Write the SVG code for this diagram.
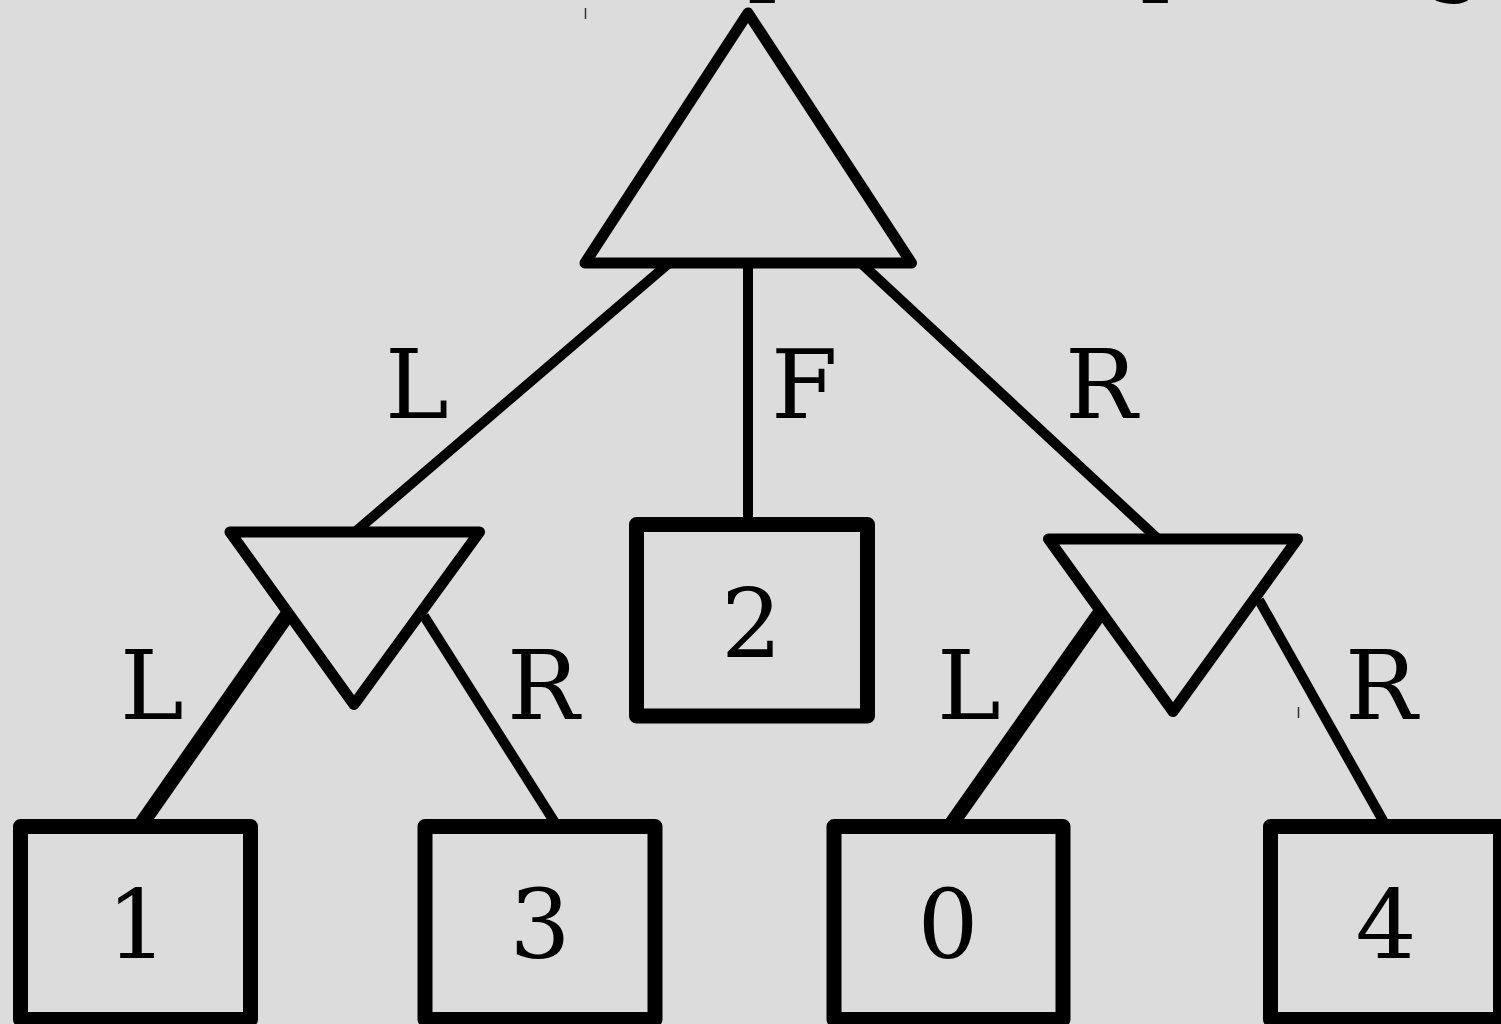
<svg xmlns="http://www.w3.org/2000/svg" width="1501" height="1024" viewBox="0 0 1501 1024">
<style>
.bg{fill:#dcdcdc}
.tri{fill:#dcdcdc;stroke:#000;stroke-width:11;stroke-linejoin:round}
.box{fill:#dcdcdc;stroke:#000;stroke-width:15;stroke-linejoin:round}
.e{stroke:#000;stroke-width:10;fill:none}
.ek{stroke:#000;stroke-width:15;fill:none}
.t{font-family:"DejaVu Serif",serif;font-size:96px;fill:#000}
.tick{stroke:#333;stroke-width:1.5}
</style>
<rect class="bg" x="0" y="0" width="1501" height="1024"/>
<g id="title">
<text class="t" x="747" y="-17">p</text>
<text class="t" x="1140" y="-17">p</text>
<text class="t" x="1426" y="-17">g</text>
</g>
<g id="connectors">
<line class="e" x1="668" y1="264" x2="355" y2="532"/>
<line class="e" x1="748" y1="264" x2="748" y2="524"/>
<line class="e" x1="862" y1="264" x2="1158" y2="539"/>
<line class="ek" x1="288" y1="614" x2="140" y2="826"/>
<line class="e" x1="424" y1="616" x2="557" y2="826"/>
<line class="ek" x1="1100" y1="613" x2="950" y2="826"/>
<line class="e" x1="1259" y1="600" x2="1386" y2="826"/>
</g>
<g id="labels">
<text class="t" x="385" y="418">L</text>
<text class="t" x="771" y="418">F</text>
<text class="t" x="1065" y="418">R</text>
<text class="t" x="120" y="719">L</text>
<text class="t" x="507" y="719">R</text>
<text class="t" x="937" y="719">L</text>
<text class="t" x="1345" y="719">R</text>
</g>
<g id="root">
<polygon class="tri" points="748,13 585,263 911.5,263"/>
</g>
<g id="minL">
<polygon class="tri" points="230,532 479.5,532 354,704.5"/>
</g>
<g id="minR">
<polygon class="tri" points="1048.5,539 1297.5,539 1173,711.5"/>
</g>
<g id="leaf2">
<rect class="box" x="636.5" y="524.5" width="231" height="191.5"/>
<text class="t" x="751.5" y="657" text-anchor="middle">2</text>
</g>
<g id="leaf1">
<rect class="box" x="20.5" y="826.5" width="230" height="193"/>
<text class="t" x="137" y="958" text-anchor="middle">1</text>
</g>
<g id="leaf3">
<rect class="box" x="425" y="826.5" width="230" height="193"/>
<text class="t" x="540" y="958" text-anchor="middle">3</text>
</g>
<g id="leaf0">
<rect class="box" x="834" y="826.5" width="229" height="193"/>
<text class="t" x="948" y="958" text-anchor="middle">0</text>
</g>
<g id="leaf4">
<rect class="box" x="1270.5" y="826.5" width="230" height="193"/>
<text class="t" x="1386" y="958" text-anchor="middle">4</text>
</g>
<line class="tick" x1="585.5" y1="8" x2="585.5" y2="19"/>
<line class="tick" x1="1298.5" y1="707" x2="1298.5" y2="718"/>
</svg>
